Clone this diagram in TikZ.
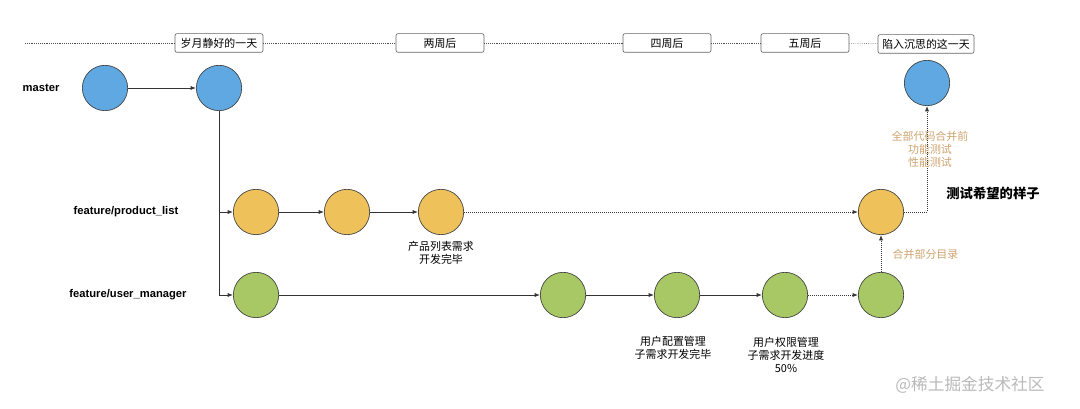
\documentclass[tikz,border=0pt]{standalone}
\usepackage{fontspec}
\setmainfont{Noto Sans CJK SC}
\newfontfamily\latfont{Liberation Sans}
\usetikzlibrary{arrows.meta}
\definecolor{cblue}{RGB}{95,168,225}
\definecolor{corange}{RGB}{238,193,90}
\definecolor{cgreen}{RGB}{167,200,100}
\definecolor{ctan}{RGB}{205,163,110}
\definecolor{cwm}{RGB}{185,185,185}
\begin{document}
\begin{tikzpicture}[x=0.75pt,y=-0.75pt,
  commit/.style={circle,draw=black!75,line width=0.5pt,minimum size=34pt,inner sep=0pt},
  bluec/.style={commit,fill=cblue},
  orangec/.style={commit,fill=corange},
  greenc/.style={commit,fill=cgreen},
  datebox/.style={draw=black!60,fill=white,rounded corners=1.5pt,line width=0.5pt,minimum width=66pt,minimum height=14pt,inner sep=1pt,font=\fontsize{8.2}{9}\selectfont},
  branchlbl/.style={font=\latfont\fontsize{8.4}{10}\selectfont\bfseries},
  note/.style={align=center,font=\fontsize{8.2}{9.8}\selectfont},
  tannote/.style={note,text=ctan},
  arr/.style={line width=0.5pt,draw=black!80,-{Latex[length=4pt,width=3pt]}},
  dotarr/.style={arr,densely dotted},
  plain/.style={line width=0.5pt,draw=black!80},
  tl/.style={line width=0.4pt,draw=black!70,densely dotted}
]
\useasboundingbox (0,0) rectangle (1080,409);
% timeline
\coordinate (t0) at (25,43);
\node[datebox] (b1) at (219,43) {岁月静好的一天};
\node[datebox] (b2) at (440,43) {两周后};
\node[datebox] (b3) at (667,43) {四周后};
\node[datebox] (b4) at (805,43) {五周后};
\node[datebox,minimum width=72pt] (b5) at (926,44) {陷入沉思的这一天};
\draw[tl] (t0) -- (b1.west);
\draw[tl] (b1) -- (b2);
\draw[tl] (b2) -- (b3);
\draw[tl] (b3) -- (b4);
\draw[tl] (b4) -- (b5);
% branch labels
\node[branchlbl] (lm) at (41,88) {master};
\node[branchlbl] (lp) at (126,212) {feature/product\_list};
\node[branchlbl] (lu) at (128,295) {feature/user\_manager};
% commits
\node[bluec] (m1) at (105,88) {};
\node[bluec] (m2) at (219,88) {};
\node[bluec] (mf) at (927,83) {};
\node[orangec] (p1) at (256,212) {};
\node[orangec] (p2) at (347,212) {};
\node[orangec] (p3) at (441,212) {};
\node[orangec] (p4) at (881,212) {};
\node[greenc] (g1) at (256,295) {};
\node[greenc] (g2) at (563,295) {};
\node[greenc] (g3) at (677,295) {};
\node[greenc] (g4) at (785,295) {};
\node[greenc] (g5) at (881,295) {};
% connectors
\coordinate (bp) at (219,212);
\coordinate (bg) at (219,295);
\draw[arr] (m1) -- (m2);
\draw[plain] (m2) -- (bg);
\draw[arr] (bp) -- (p1);
\draw[arr] (bg) -- (g1);
\draw[arr] (p1) -- (p2);
\draw[arr] (p2) -- (p3);
\draw[dotarr] (p3) -- (p4);
\draw[arr] (g1) -- (g2);
\draw[arr] (g2) -- (g3);
\draw[arr] (g3) -- (g4);
\draw[dotarr] (g4) -- (g5);
\draw[dotarr] (g5) -- (p4);
\draw[dotarr] (p4.east) -| (mf.south);
% notes
\node[note] (n1) at (441,253) {产品列表需求\\开发完毕};
\node[note] (n2) at (673,348) {用户配置管理\\子需求开发完毕};
\node[note] (n3) at (786,355) {用户权限管理\\子需求开发进度\\50\%};
\node[tannote] (n4) at (930,149) {全部代码合并前\\功能测试\\性能测试};
\node[tannote,anchor=west] (n5) at (888,254) {合并部分目录};
\node[font=\fontsize{10}{12}\selectfont\bfseries] (n6) at (993,193) {测试希望的样子};
\node[text=cwm,font=\fontsize{12.5}{14}\selectfont] (wm) at (970,385) {@稀土掘金技术社区};
\end{tikzpicture}
\end{document}
